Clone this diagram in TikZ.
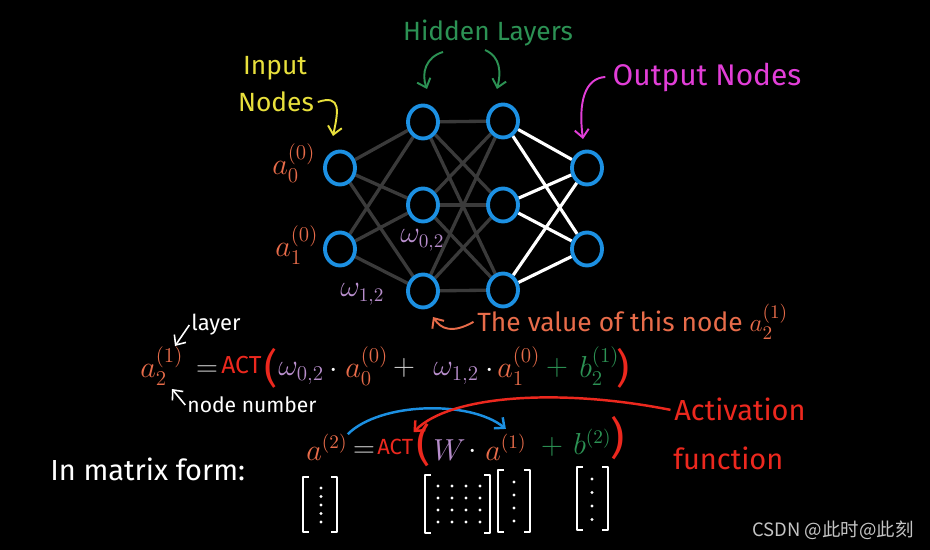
\documentclass[tikz,border=0pt]{standalone}
\usepackage{amsmath}
\usepackage{fontspec}
\setmainfont{Fira Sans}
\newfontfamily\cjkfont{Noto Sans CJK SC}
\usepackage{tikz}
\usetikzlibrary{shapes.geometric, arrows.meta, positioning, backgrounds}
\definecolor{nnblue}{RGB}{28, 144, 226}
\definecolor{nnorange}{RGB}{232, 108, 74}
\definecolor{nnred}{RGB}{236, 40, 30}
\definecolor{nnlav}{RGB}{184, 142, 204}
\definecolor{nngreen}{RGB}{44, 146, 84}
\definecolor{nnyellow}{RGB}{232, 224, 60}
\definecolor{nnpink}{RGB}{226, 62, 216}
\definecolor{nnedge}{RGB}{58, 58, 58}
\definecolor{nnsoft}{RGB}{205, 205, 205}
\definecolor{wmgray}{RGB}{196, 196, 196}

\begin{document}
\begin{tikzpicture}[x=0.02cm, y=-0.02cm, >={Straight Barb[length=4.5pt, width=8pt]},
    neuron/.style={ellipse, draw=nnblue, line width=2.2pt, minimum width=0.6cm, minimum height=0.66cm, inner sep=0pt},
    link/.style={nnedge, line width=1.9pt},
    hand/.style={font=\fontsize{15}{18}\selectfont, inner sep=0pt},
    mth/.style={font=\fontsize{18}{22}\selectfont, inner sep=0pt, anchor=base west},
    mthb/.style={mth, font=\fontsize{16}{20}\selectfont},
    paren/.style={font=\fontsize{23}{26}\selectfont, inner sep=0pt, text=nnred},
    pointer/.style={->, line width=1.1pt},
    bracket/.style={white, line width=1.3pt, line join=round}]
    \useasboundingbox (0,0) rectangle (930,550);

    % network
    \node[neuron] (i0) at (340,168) {};
    \node[neuron] (i1) at (340,249) {};
    \node[neuron] (h0) at (423,122) {};
    \node[neuron] (h1) at (423,205) {};
    \node[neuron] (h2) at (423,291) {};
    \node[neuron] (k0) at (503,121) {};
    \node[neuron] (k1) at (503,205) {};
    \node[neuron] (k2) at (503,290) {};
    \node[neuron] (o0) at (587,168) {};
    \node[neuron] (o1) at (587,249) {};

    \begin{scope}[on background layer]
        \fill[black] (0,0) rectangle (930,550);
        \foreach \i in {0,1} \foreach \j in {0,1,2} \draw[link] (i\i) -- (h\j);
        \foreach \i in {0,1,2} \foreach \j in {0,1,2} \draw[link] (h\i) -- (k\j);
        \foreach \i in {0,1,2} \foreach \j in {0,1} \draw[link, white, line width=1.8pt] (k\i) -- (o\j);
    \end{scope}

    % labels round the network
    \node[hand, nnyellow] (inputtxt) at (275,68) {Input};
    \node[hand, nnyellow] (nodestxt) at (276,102) {Nodes};
    \node[hand, nngreen] (hidtxt) at (488,33) {Hidden Layers};
    \node[hand, nnpink, font=\fontsize{17}{20}\selectfont] (outtxt) at (707,77) {Output Nodes};

    \coordinate (intip) at (333,136);
    \coordinate (hidL) at (443,52);
    \coordinate (hidLtip) at (427,89);
    \coordinate (hidR) at (485,50);
    \coordinate (hidRtip) at (497,89);
    \coordinate (outtip) at (583,139);
    \draw[pointer, nnyellow] ([xshift=2pt]nodestxt.east) .. controls (342,94) and (338,112) .. (intip);
    \draw[pointer, nngreen] (hidL) .. controls (426,57) and (421,73) .. (hidLtip);
    \draw[pointer, nngreen] (hidR) .. controls (501,57) and (501,73) .. (hidRtip);
    \draw[pointer, nnpink] ([xshift=-4pt]outtxt.west) .. controls (585,78) and (578,102) .. (outtip);

    \node[mth, nnorange] (a00) at (272,175) {$a_0^{(0)}$};
    \node[mth, nnorange] (a10) at (275,257) {$a_1^{(0)}$};
    \node[mth, nnlav, font=\fontsize{16}{20}\selectfont] (w02) at (400,243) {$\omega_{0,2}$};
    \node[mth, nnlav, font=\fontsize{16}{20}\selectfont] (w12) at (340,297) {$\omega_{1,2}$};

    \node[hand, nnorange, anchor=base west] (valtxt) at (477,332) {The value of this node $a_2^{(1)}$};
    \coordinate (valtip) at (433,317);
    \draw[pointer, nnorange] ([xshift=-2pt]valtxt.west) .. controls (452,334) and (441,329) .. (valtip);

    % one node, written out
    \node[mth, nnorange] (lhs) at (140,378) {$a_2^{(1)}$};
    \node[mth, nnsoft, anchor=center] (eqa) at (207,371) {$=$};
    \node[hand, nnred, font=\fontsize{14}{16}\selectfont, anchor=base west] (acta) at (221,374) {ACT};
    \node[paren] (opa) at (271,368) {(};
    \node[mth, nnlav] (wa) at (278,376) {$\omega_{0,2}$};
    \node[mth, white, anchor=center] (dota1) at (334,371) {$\cdot$};
    \node[mth, nnorange] (x0) at (345,378) {$a_0^{(0)}$};
    \node[mth, nnsoft, anchor=center] (pa1) at (404,368) {$+$};
    \node[mth, nnlav] (wb) at (433,376) {$\omega_{1,2}$};
    \node[mth, white, anchor=center] (dota2) at (490,371) {$\cdot$};
    \node[mth, nnorange] (x1) at (497,378) {$a_1^{(0)}$};
    \node[mth, nngreen, anchor=center] (pa2) at (557,368) {$+$};
    \node[mth, nngreen] (ba) at (579,378) {$b_2^{(1)}$};
    \node[paren] (cpa) at (623,368) {)};

    \node[hand, white, font=\fontsize{12.5}{15}\selectfont] (layer) at (216,325) {layer};
    \node[hand, white, font=\fontsize{12}{15}\selectfont] (nodenum) at (252,405) {node number};
    \coordinate (laytip) at (175,346);
    \coordinate (numtip) at (172,389);
    \draw[pointer, white, line width=0.9pt] ([xshift=-1pt]layer.west) -- (laytip);
    \draw[pointer, white, line width=0.9pt] ([xshift=-1pt]nodenum.west) -- (numtip);

    % matrix form
    \node[hand, white, font=\fontsize{16.5}{20}\selectfont, anchor=base west] (mform) at (50,480) {In matrix form:};
    \node[mthb, nnorange] (lhsb) at (306,460) {$a^{(2)}$};
    \node[mthb, nnsoft, anchor=center] (eqb) at (364,452) {$=$};
    \node[hand, nnred, font=\fontsize{12.5}{15}\selectfont, anchor=base west] (actb) at (377,455) {ACT};
    \node[paren, font=\fontsize{25}{28}\selectfont] (opb) at (424,445) {(};
    \node[mth, nnlav] (wm) at (433,460) {$W$};
    \node[mthb, white, anchor=center] (dotb) at (473,452) {$\cdot$};
    \node[mthb, nnorange] (xb) at (485,460) {$a^{(1)}$};
    \node[mthb, nngreen, anchor=center] (pb) at (552,447) {$+$};
    \node[mthb, nngreen] (bb) at (573,455) {$b^{(2)}$};
    \node[paren, font=\fontsize{25}{28}\selectfont] (cpb) at (618,438) {)};

    \foreach \l/\r/\t/\b in {303/337/477/532, 425/490/475/533, 498/530/470/532, 577/608/467/530} {
        \draw[bracket] (\l+6,\t) -- (\l,\t) -- (\l,\b) -- (\l+6,\b);
        \draw[bracket] (\r-6,\t) -- (\r,\t) -- (\r,\b) -- (\r-6,\b);
    }
    \foreach \k in {0,...,4} \fill[white] (321,488+8.5*\k) circle (0.9pt);
    \foreach \c in {0,...,3} \foreach \k in {0,...,3} \fill[white] (438+14*\c,486+12*\k) circle (0.9pt);
    \foreach \k in {0,...,3} \fill[white] (514,482+13*\k) circle (0.9pt);
    \foreach \k in {0,...,3} \fill[white] (592,479+13.5*\k) circle (0.9pt);

    \node[hand, nnred, font=\fontsize{16.5}{20}\selectfont, anchor=base west] (acttxt) at (674,421) {Activation};
    \node[hand, nnred, font=\fontsize{16.5}{20}\selectfont, anchor=base west] (funtxt) at (673,470) {function};

    \draw[pointer, nnblue, line width=1.4pt] (lhsb.north east) .. controls (380,402) and (470,400) .. ([yshift=3pt]xb.north);
    \draw[pointer, nnred, line width=1.4pt] ([xshift=-2pt]acttxt.west) .. controls (560,388) and (450,395) .. ([yshift=4pt]actb.north east);

    \node[text=wmgray, font=\cjkfont\fontsize{10.5}{12}\selectfont] (wmark) at (833,530) {CSDN @此时@此刻};
\end{tikzpicture}
\end{document}
